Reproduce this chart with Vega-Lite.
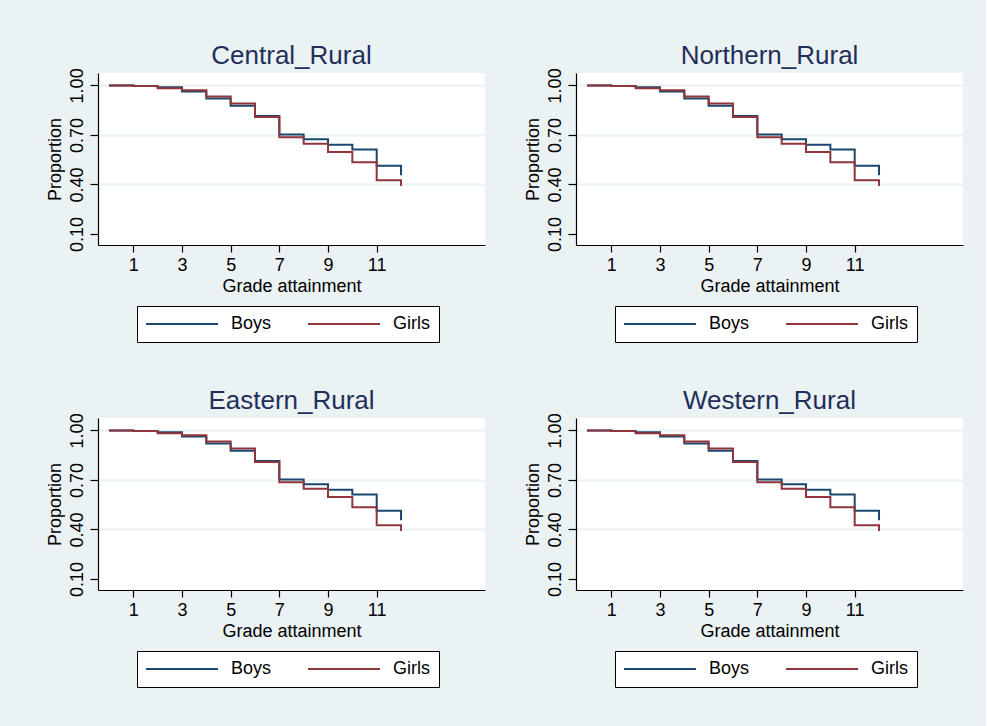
{
  "$schema": "https://vega.github.io/schema/vega-lite/v6.json",
  "background": "#eaf2f3",
  "padding": {"left": 45, "top": 42, "right": 23, "bottom": 40},
  "spacing": 44,
  "config": {
    "font": "Liberation Sans",
    "view": {"stroke": null, "fill": "white"},
    "title": {"fontSize": 26, "fontWeight": "normal", "color": "#1f2f5a", "anchor": "middle", "baseline": "alphabetic", "offset": -1},
    "axis": {
      "domainColor": "black", "tickColor": "black", "labelColor": "black", "titleColor": "black",
      "labelFontSize": 18, "titleFontSize": 18, "titleFontWeight": "normal",
      "domainWidth": 1.2, "tickWidth": 1.2
    },
    "legend": {
      "orient": "none", "legendX": 39, "legendY": 233, "direction": "horizontal",
      "title": null, "fillColor": "white", "strokeColor": "black", "padding": 9,
      "columnPadding": 32, "labelFontSize": 18, "labelColor": "black",
      "symbolType": "M-4.5,0L4.5,0", "symbolSize": 256, "symbolStrokeWidth": 2,
      "symbolOffset": 27, "labelOffset": 40
    }
  },
  "datasets": {
    "km": [
      {"sex": "Boys", "grade": 0, "prop": 1.0},
      {"sex": "Boys", "grade": 1, "prop": 0.996},
      {"sex": "Boys", "grade": 2, "prop": 0.988},
      {"sex": "Boys", "grade": 3, "prop": 0.963},
      {"sex": "Boys", "grade": 4, "prop": 0.921},
      {"sex": "Boys", "grade": 5, "prop": 0.876},
      {"sex": "Boys", "grade": 6, "prop": 0.815},
      {"sex": "Boys", "grade": 7, "prop": 0.702},
      {"sex": "Boys", "grade": 8, "prop": 0.673},
      {"sex": "Boys", "grade": 9, "prop": 0.641},
      {"sex": "Boys", "grade": 10, "prop": 0.611},
      {"sex": "Boys", "grade": 11, "prop": 0.513},
      {"sex": "Boys", "grade": 12, "prop": 0.456},
      {"sex": "Girls", "grade": 0, "prop": 1.0},
      {"sex": "Girls", "grade": 1, "prop": 0.996},
      {"sex": "Girls", "grade": 2, "prop": 0.982},
      {"sex": "Girls", "grade": 3, "prop": 0.97},
      {"sex": "Girls", "grade": 4, "prop": 0.933},
      {"sex": "Girls", "grade": 5, "prop": 0.89},
      {"sex": "Girls", "grade": 6, "prop": 0.809},
      {"sex": "Girls", "grade": 7, "prop": 0.686},
      {"sex": "Girls", "grade": 8, "prop": 0.647},
      {"sex": "Girls", "grade": 9, "prop": 0.596},
      {"sex": "Girls", "grade": 10, "prop": 0.535},
      {"sex": "Girls", "grade": 11, "prop": 0.426},
      {"sex": "Girls", "grade": 12, "prop": 0.391}
    ]
  },
  "vconcat": [
    {
      "spacing": 38,
      "hconcat": [
        {
          "title": "Central_Rural",
          "width": 387, "height": 172,
          "data": {"name": "km"},
          "mark": {"type": "line", "interpolate": "step-after", "strokeWidth": 2},
          "encoding": {
            "x": {"field": "grade", "type": "quantitative", "scale": {"domain": [-0.45, 15.45], "nice": false, "zero": false},
              "axis": {"values": [1, 3, 5, 7, 9, 11], "title": "Grade attainment", "grid": false, "tickSize": 7, "labelPadding": 4, "titlePadding": 3}},
            "y": {"field": "prop", "type": "quantitative", "scale": {"domain": [0.033, 1.075], "nice": false, "zero": false},
              "axis": {"values": [0.1, 0.4, 0.7, 1.0], "format": ".2f", "title": "Proportion", "labelAngle": -90, "labelAlign": "center", "labelBaseline": "bottom", "labelPadding": 4, "titlePadding": 4, "tickSize": 8,
                "grid": true, "gridColor": "#eaf2f3", "gridWidth": 2, "gridOpacity": {"condition": {"test": "datum.value < 0.2", "value": 0}, "value": 1}}},
            "color": {"field": "sex", "type": "nominal", "scale": {"domain": ["Boys", "Girls"], "range": ["#1a476f", "#90353b"]}}
          }
        },
        {
          "title": "Northern_Rural",
          "width": 387, "height": 172,
          "data": {"name": "km"},
          "mark": {"type": "line", "interpolate": "step-after", "strokeWidth": 2},
          "encoding": {
            "x": {"field": "grade", "type": "quantitative", "scale": {"domain": [-0.45, 15.45], "nice": false, "zero": false},
              "axis": {"values": [1, 3, 5, 7, 9, 11], "title": "Grade attainment", "grid": false, "tickSize": 7, "labelPadding": 4, "titlePadding": 3}},
            "y": {"field": "prop", "type": "quantitative", "scale": {"domain": [0.033, 1.075], "nice": false, "zero": false},
              "axis": {"values": [0.1, 0.4, 0.7, 1.0], "format": ".2f", "title": "Proportion", "labelAngle": -90, "labelAlign": "center", "labelBaseline": "bottom", "labelPadding": 4, "titlePadding": 4, "tickSize": 8,
                "grid": true, "gridColor": "#eaf2f3", "gridWidth": 2, "gridOpacity": {"condition": {"test": "datum.value < 0.2", "value": 0}, "value": 1}}},
            "color": {"field": "sex", "type": "nominal", "scale": {"domain": ["Boys", "Girls"], "range": ["#1a476f", "#90353b"]}}
          }
        }
      ],
      "resolve": {"legend": {"color": "independent"}, "scale": {"color": "independent"}}
    },
    {
      "spacing": 38,
      "hconcat": [
        {
          "title": "Eastern_Rural",
          "width": 387, "height": 172,
          "data": {"name": "km"},
          "mark": {"type": "line", "interpolate": "step-after", "strokeWidth": 2},
          "encoding": {
            "x": {"field": "grade", "type": "quantitative", "scale": {"domain": [-0.45, 15.45], "nice": false, "zero": false},
              "axis": {"values": [1, 3, 5, 7, 9, 11], "title": "Grade attainment", "grid": false, "tickSize": 7, "labelPadding": 4, "titlePadding": 3}},
            "y": {"field": "prop", "type": "quantitative", "scale": {"domain": [0.033, 1.075], "nice": false, "zero": false},
              "axis": {"values": [0.1, 0.4, 0.7, 1.0], "format": ".2f", "title": "Proportion", "labelAngle": -90, "labelAlign": "center", "labelBaseline": "bottom", "labelPadding": 4, "titlePadding": 4, "tickSize": 8,
                "grid": true, "gridColor": "#eaf2f3", "gridWidth": 2, "gridOpacity": {"condition": {"test": "datum.value < 0.2", "value": 0}, "value": 1}}},
            "color": {"field": "sex", "type": "nominal", "scale": {"domain": ["Boys", "Girls"], "range": ["#1a476f", "#90353b"]}}
          }
        },
        {
          "title": "Western_Rural",
          "width": 387, "height": 172,
          "data": {"name": "km"},
          "mark": {"type": "line", "interpolate": "step-after", "strokeWidth": 2},
          "encoding": {
            "x": {"field": "grade", "type": "quantitative", "scale": {"domain": [-0.45, 15.45], "nice": false, "zero": false},
              "axis": {"values": [1, 3, 5, 7, 9, 11], "title": "Grade attainment", "grid": false, "tickSize": 7, "labelPadding": 4, "titlePadding": 3}},
            "y": {"field": "prop", "type": "quantitative", "scale": {"domain": [0.033, 1.075], "nice": false, "zero": false},
              "axis": {"values": [0.1, 0.4, 0.7, 1.0], "format": ".2f", "title": "Proportion", "labelAngle": -90, "labelAlign": "center", "labelBaseline": "bottom", "labelPadding": 4, "titlePadding": 4, "tickSize": 8,
                "grid": true, "gridColor": "#eaf2f3", "gridWidth": 2, "gridOpacity": {"condition": {"test": "datum.value < 0.2", "value": 0}, "value": 1}}},
            "color": {"field": "sex", "type": "nominal", "scale": {"domain": ["Boys", "Girls"], "range": ["#1a476f", "#90353b"]}}
          }
        }
      ],
      "resolve": {"legend": {"color": "independent"}, "scale": {"color": "independent"}}
    }
  ],
  "resolve": {"legend": {"color": "independent"}, "scale": {"color": "independent"}}
}
